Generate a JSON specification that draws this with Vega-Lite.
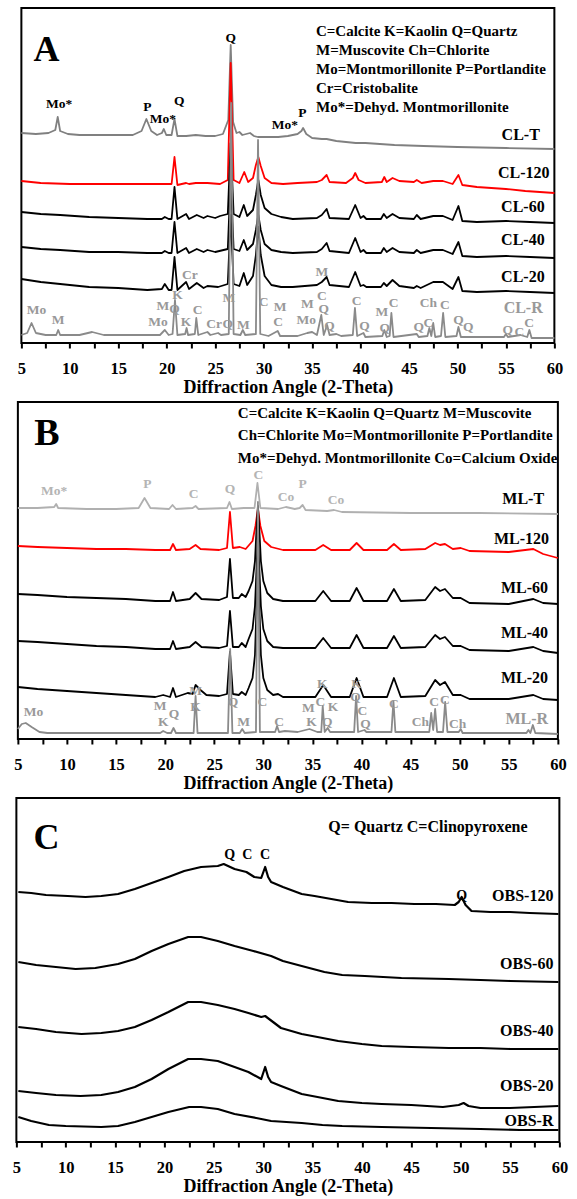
{
"$schema": "https://vega.github.io/schema/vega-lite/v6.json",
"background": "white",
"padding": {"left": 11, "top": 7, "right": 0, "bottom": 0},
"spacing": 3,
"center": true,
"config": {
  "view": {"stroke": "black", "strokeWidth": 2},
  "text": {"font": "Liberation Serif", "fontWeight": "bold"},
  "axisX": {"grid": false, "domain": false, "tickColor": "black", "tickWidth": 2, "tickSize": 5, "labelFont": "Liberation Serif", "labelFontSize": 16.5, "labelFontWeight": "bold", "labelColor": "black", "labelPadding": 12, "labelFlush": false, "labelOverlap": false, "titleFont": "Liberation Serif", "titleFontSize": 18, "titleFontWeight": "bold", "titleColor": "black", "titlePadding": 2}
},
"datasets": {
"lineA": [
{"s":"CL-T","x":5,"y":210},{"s":"CL-T","x":6.5,"y":209},{"s":"CL-T","x":7.8,"y":210},{"s":"CL-T","x":8.5,"y":213},{"s":"CL-T","x":8.75,"y":226},{"s":"CL-T","x":9,"y":212},{"s":"CL-T","x":9.8,"y":209},{"s":"CL-T","x":11,"y":208},{"s":"CL-T","x":13,"y":208},{"s":"CL-T","x":15,"y":208},{"s":"CL-T","x":16.5,"y":208},{"s":"CL-T","x":17.4,"y":212},{"s":"CL-T","x":17.9,"y":224},{"s":"CL-T","x":18.4,"y":212},{"s":"CL-T","x":19,"y":208},{"s":"CL-T","x":19.5,"y":210},{"s":"CL-T","x":19.7,"y":214},{"s":"CL-T","x":19.95,"y":208},{"s":"CL-T","x":20.5,"y":208},{"s":"CL-T","x":20.8,"y":224},{"s":"CL-T","x":21.1,"y":207},{"s":"CL-T","x":22,"y":207},{"s":"CL-T","x":23,"y":208},{"s":"CL-T","x":24,"y":207},{"s":"CL-T","x":25,"y":207},{"s":"CL-T","x":25.8,"y":209},{"s":"CL-T","x":26.35,"y":223},{"s":"CL-T","x":26.6,"y":298},{"s":"CL-T","x":26.85,"y":221},{"s":"CL-T","x":27.2,"y":210},{"s":"CL-T","x":27.5,"y":211},{"s":"CL-T","x":27.8,"y":208},{"s":"CL-T","x":28.6,"y":210},{"s":"CL-T","x":29,"y":207},{"s":"CL-T","x":29.4,"y":206},{"s":"CL-T","x":29.8,"y":206},{"s":"CL-T","x":30.5,"y":206},{"s":"CL-T","x":31.5,"y":206},{"s":"CL-T","x":32.5,"y":207},{"s":"CL-T","x":33,"y":208},{"s":"CL-T","x":33.5,"y":209},{"s":"CL-T","x":33.9,"y":212},{"s":"CL-T","x":34.07,"y":215},{"s":"CL-T","x":34.4,"y":209},{"s":"CL-T","x":35,"y":205},{"s":"CL-T","x":36,"y":204},{"s":"CL-T","x":36.5,"y":204},{"s":"CL-T","x":37.5,"y":202},{"s":"CL-T","x":39.5,"y":200},{"s":"CL-T","x":40.5,"y":200},{"s":"CL-T","x":43.5,"y":198},{"s":"CL-T","x":46.5,"y":197},{"s":"CL-T","x":50,"y":196},{"s":"CL-T","x":55,"y":195},{"s":"CL-T","x":60,"y":194},
{"s":"CL-120","x":5,"y":162},{"s":"CL-120","x":7,"y":160},{"s":"CL-120","x":10,"y":159},{"s":"CL-120","x":13,"y":159},{"s":"CL-120","x":16,"y":159},{"s":"CL-120","x":19,"y":159},{"s":"CL-120","x":20.5,"y":159},{"s":"CL-120","x":20.8,"y":186},{"s":"CL-120","x":21.1,"y":158},{"s":"CL-120","x":22,"y":160},{"s":"CL-120","x":22.3,"y":159},{"s":"CL-120","x":23,"y":160},{"s":"CL-120","x":24.2,"y":160},{"s":"CL-120","x":25.5,"y":159},{"s":"CL-120","x":26.3,"y":163},{"s":"CL-120","x":26.6,"y":280},{"s":"CL-120","x":26.9,"y":163},{"s":"CL-120","x":27.5,"y":160},{"s":"CL-120","x":28,"y":171},{"s":"CL-120","x":28.4,"y":161},{"s":"CL-120","x":28.9,"y":165},{"s":"CL-120","x":29.2,"y":178},{"s":"CL-120","x":29.45,"y":186},{"s":"CL-120","x":29.7,"y":177},{"s":"CL-120","x":30.1,"y":165},{"s":"CL-120","x":30.8,"y":160},{"s":"CL-120","x":32,"y":159},{"s":"CL-120","x":33.5,"y":160},{"s":"CL-120","x":35.5,"y":161},{"s":"CL-120","x":36,"y":163},{"s":"CL-120","x":36.5,"y":168},{"s":"CL-120","x":36.8,"y":161},{"s":"CL-120","x":38.5,"y":160},{"s":"CL-120","x":39.2,"y":165},{"s":"CL-120","x":39.45,"y":170},{"s":"CL-120","x":39.8,"y":163},{"s":"CL-120","x":40.5,"y":160},{"s":"CL-120","x":42.2,"y":161},{"s":"CL-120","x":42.45,"y":166},{"s":"CL-120","x":42.7,"y":161},{"s":"CL-120","x":43.3,"y":165},{"s":"CL-120","x":44,"y":162},{"s":"CL-120","x":45.5,"y":161},{"s":"CL-120","x":45.8,"y":163},{"s":"CL-120","x":46.3,"y":160},{"s":"CL-120","x":47.5,"y":162},{"s":"CL-120","x":48.5,"y":162},{"s":"CL-120","x":49.5,"y":159},{"s":"CL-120","x":50.1,"y":168},{"s":"CL-120","x":50.5,"y":158},{"s":"CL-120","x":52,"y":156},{"s":"CL-120","x":55,"y":154},{"s":"CL-120","x":57,"y":152},{"s":"CL-120","x":60,"y":150},
{"s":"CL-60","x":5,"y":131},{"s":"CL-60","x":7,"y":129},{"s":"CL-60","x":9,"y":128},{"s":"CL-60","x":12,"y":126},{"s":"CL-60","x":15,"y":125},{"s":"CL-60","x":18,"y":124},{"s":"CL-60","x":19.5,"y":124},{"s":"CL-60","x":19.8,"y":126},{"s":"CL-60","x":20.2,"y":124},{"s":"CL-60","x":20.5,"y":124},{"s":"CL-60","x":20.8,"y":156},{"s":"CL-60","x":21.1,"y":124},{"s":"CL-60","x":22,"y":129},{"s":"CL-60","x":22.3,"y":124},{"s":"CL-60","x":23.1,"y":128},{"s":"CL-60","x":23.8,"y":125},{"s":"CL-60","x":24.2,"y":127},{"s":"CL-60","x":25,"y":125},{"s":"CL-60","x":25.5,"y":127},{"s":"CL-60","x":26.3,"y":129},{"s":"CL-60","x":26.6,"y":200},{"s":"CL-60","x":26.9,"y":129},{"s":"CL-60","x":27.5,"y":126},{"s":"CL-60","x":27.95,"y":138},{"s":"CL-60","x":28.3,"y":127},{"s":"CL-60","x":28.9,"y":133},{"s":"CL-60","x":29.2,"y":148},{"s":"CL-60","x":29.45,"y":163},{"s":"CL-60","x":29.7,"y":148},{"s":"CL-60","x":30.1,"y":135},{"s":"CL-60","x":30.8,"y":129},{"s":"CL-60","x":31.8,"y":126},{"s":"CL-60","x":33,"y":124},{"s":"CL-60","x":35.5,"y":125},{"s":"CL-60","x":36,"y":128},{"s":"CL-60","x":36.5,"y":134},{"s":"CL-60","x":36.8,"y":125},{"s":"CL-60","x":38.8,"y":124},{"s":"CL-60","x":39.45,"y":138},{"s":"CL-60","x":40,"y":125},{"s":"CL-60","x":40.3,"y":127},{"s":"CL-60","x":40.6,"y":124},{"s":"CL-60","x":42.1,"y":124},{"s":"CL-60","x":42.4,"y":129},{"s":"CL-60","x":42.7,"y":125},{"s":"CL-60","x":43.3,"y":129},{"s":"CL-60","x":44,"y":125},{"s":"CL-60","x":45.5,"y":124},{"s":"CL-60","x":45.8,"y":128},{"s":"CL-60","x":46.2,"y":124},{"s":"CL-60","x":47.5,"y":127},{"s":"CL-60","x":48.5,"y":127},{"s":"CL-60","x":49.5,"y":123},{"s":"CL-60","x":50.1,"y":137},{"s":"CL-60","x":50.5,"y":122},{"s":"CL-60","x":52,"y":121},{"s":"CL-60","x":55,"y":122},{"s":"CL-60","x":57.5,"y":121},{"s":"CL-60","x":60,"y":120},
{"s":"CL-40","x":5,"y":96},{"s":"CL-40","x":7,"y":94},{"s":"CL-40","x":9,"y":93},{"s":"CL-40","x":12,"y":91},{"s":"CL-40","x":15,"y":91},{"s":"CL-40","x":18,"y":90},{"s":"CL-40","x":19.5,"y":90},{"s":"CL-40","x":19.8,"y":92},{"s":"CL-40","x":20.2,"y":90},{"s":"CL-40","x":20.5,"y":90},{"s":"CL-40","x":20.8,"y":121},{"s":"CL-40","x":21.1,"y":90},{"s":"CL-40","x":22,"y":95},{"s":"CL-40","x":22.3,"y":90},{"s":"CL-40","x":23.1,"y":94},{"s":"CL-40","x":23.8,"y":91},{"s":"CL-40","x":24.2,"y":93},{"s":"CL-40","x":25,"y":91},{"s":"CL-40","x":26.3,"y":94},{"s":"CL-40","x":26.6,"y":165},{"s":"CL-40","x":26.9,"y":94},{"s":"CL-40","x":27.5,"y":92},{"s":"CL-40","x":27.95,"y":103},{"s":"CL-40","x":28.3,"y":93},{"s":"CL-40","x":28.9,"y":99},{"s":"CL-40","x":29.2,"y":113},{"s":"CL-40","x":29.45,"y":128},{"s":"CL-40","x":29.7,"y":113},{"s":"CL-40","x":30.1,"y":99},{"s":"CL-40","x":30.8,"y":93},{"s":"CL-40","x":31.8,"y":91},{"s":"CL-40","x":33,"y":90},{"s":"CL-40","x":35.5,"y":91},{"s":"CL-40","x":36,"y":94},{"s":"CL-40","x":36.5,"y":100},{"s":"CL-40","x":36.8,"y":92},{"s":"CL-40","x":38.8,"y":90},{"s":"CL-40","x":39.45,"y":105},{"s":"CL-40","x":40,"y":91},{"s":"CL-40","x":40.3,"y":93},{"s":"CL-40","x":40.6,"y":90},{"s":"CL-40","x":42.1,"y":90},{"s":"CL-40","x":42.4,"y":95},{"s":"CL-40","x":42.7,"y":91},{"s":"CL-40","x":43.3,"y":95},{"s":"CL-40","x":44,"y":91},{"s":"CL-40","x":45.5,"y":90},{"s":"CL-40","x":45.8,"y":93},{"s":"CL-40","x":46.2,"y":90},{"s":"CL-40","x":47.5,"y":93},{"s":"CL-40","x":48.5,"y":93},{"s":"CL-40","x":49.5,"y":89},{"s":"CL-40","x":50.1,"y":101},{"s":"CL-40","x":50.5,"y":87},{"s":"CL-40","x":52,"y":86},{"s":"CL-40","x":55,"y":87},{"s":"CL-40","x":57.5,"y":86},{"s":"CL-40","x":60,"y":85},
{"s":"CL-20","x":5,"y":64},{"s":"CL-20","x":7,"y":61},{"s":"CL-20","x":9,"y":59},{"s":"CL-20","x":12,"y":56},{"s":"CL-20","x":15,"y":55},{"s":"CL-20","x":18,"y":53},{"s":"CL-20","x":19.5,"y":54},{"s":"CL-20","x":19.8,"y":59},{"s":"CL-20","x":20.2,"y":53},{"s":"CL-20","x":20.5,"y":53},{"s":"CL-20","x":20.8,"y":86},{"s":"CL-20","x":21.1,"y":53},{"s":"CL-20","x":22,"y":61},{"s":"CL-20","x":22.3,"y":54},{"s":"CL-20","x":23.1,"y":60},{"s":"CL-20","x":23.8,"y":55},{"s":"CL-20","x":24.2,"y":57},{"s":"CL-20","x":25.3,"y":56},{"s":"CL-20","x":26.3,"y":59},{"s":"CL-20","x":26.6,"y":128},{"s":"CL-20","x":26.9,"y":59},{"s":"CL-20","x":27.5,"y":57},{"s":"CL-20","x":27.95,"y":70},{"s":"CL-20","x":28.3,"y":58},{"s":"CL-20","x":28.9,"y":67},{"s":"CL-20","x":29.2,"y":88},{"s":"CL-20","x":29.45,"y":116},{"s":"CL-20","x":29.7,"y":88},{"s":"CL-20","x":30.1,"y":67},{"s":"CL-20","x":30.8,"y":58},{"s":"CL-20","x":31.8,"y":56},{"s":"CL-20","x":33,"y":56},{"s":"CL-20","x":35.5,"y":58},{"s":"CL-20","x":36,"y":61},{"s":"CL-20","x":36.5,"y":66},{"s":"CL-20","x":36.8,"y":58},{"s":"CL-20","x":38.8,"y":56},{"s":"CL-20","x":39.45,"y":71},{"s":"CL-20","x":40,"y":57},{"s":"CL-20","x":40.3,"y":58},{"s":"CL-20","x":40.6,"y":56},{"s":"CL-20","x":42.1,"y":56},{"s":"CL-20","x":42.4,"y":60},{"s":"CL-20","x":42.7,"y":57},{"s":"CL-20","x":43.3,"y":63},{"s":"CL-20","x":44,"y":57},{"s":"CL-20","x":45.5,"y":55},{"s":"CL-20","x":45.8,"y":57},{"s":"CL-20","x":46.2,"y":55},{"s":"CL-20","x":47.5,"y":61},{"s":"CL-20","x":48.5,"y":61},{"s":"CL-20","x":49.5,"y":54},{"s":"CL-20","x":50.1,"y":66},{"s":"CL-20","x":50.5,"y":52},{"s":"CL-20","x":52,"y":51},{"s":"CL-20","x":55,"y":52},{"s":"CL-20","x":57.5,"y":51},{"s":"CL-20","x":60,"y":50},
{"s":"CL-R","x":5,"y":8},{"s":"CL-R","x":5.6,"y":10},{"s":"CL-R","x":6.05,"y":20},{"s":"CL-R","x":6.5,"y":10},{"s":"CL-R","x":7.5,"y":8},{"s":"CL-R","x":8.6,"y":8},{"s":"CL-R","x":8.8,"y":13},{"s":"CL-R","x":9,"y":8},{"s":"CL-R","x":11,"y":8},{"s":"CL-R","x":12.3,"y":11},{"s":"CL-R","x":13.5,"y":8},{"s":"CL-R","x":16,"y":8},{"s":"CL-R","x":19.3,"y":8},{"s":"CL-R","x":19.8,"y":13},{"s":"CL-R","x":20.2,"y":8},{"s":"CL-R","x":20.6,"y":9},{"s":"CL-R","x":20.85,"y":43},{"s":"CL-R","x":21.1,"y":8},{"s":"CL-R","x":21.9,"y":9},{"s":"CL-R","x":22.05,"y":15},{"s":"CL-R","x":22.2,"y":8},{"s":"CL-R","x":22.9,"y":9},{"s":"CL-R","x":23.05,"y":25},{"s":"CL-R","x":23.25,"y":8},{"s":"CL-R","x":24.2,"y":11},{"s":"CL-R","x":24.5,"y":8},{"s":"CL-R","x":25.3,"y":10},{"s":"CL-R","x":25.6,"y":8},{"s":"CL-R","x":26.4,"y":9},{"s":"CL-R","x":26.65,"y":240},{"s":"CL-R","x":26.9,"y":9},{"s":"CL-R","x":27.6,"y":8},{"s":"CL-R","x":27.85,"y":13},{"s":"CL-R","x":28.1,"y":8},{"s":"CL-R","x":29.2,"y":9},{"s":"CL-R","x":29.42,"y":203},{"s":"CL-R","x":29.65,"y":9},{"s":"CL-R","x":30.5,"y":7},{"s":"CL-R","x":31.45,"y":12},{"s":"CL-R","x":31.7,"y":7},{"s":"CL-R","x":33.5,"y":7},{"s":"CL-R","x":34.5,"y":10},{"s":"CL-R","x":35,"y":11},{"s":"CL-R","x":35.5,"y":8},{"s":"CL-R","x":35.95,"y":28},{"s":"CL-R","x":36.2,"y":8},{"s":"CL-R","x":36.55,"y":18},{"s":"CL-R","x":36.8,"y":8},{"s":"CL-R","x":37.5,"y":9},{"s":"CL-R","x":38,"y":7},{"s":"CL-R","x":39.2,"y":8},{"s":"CL-R","x":39.42,"y":35},{"s":"CL-R","x":39.65,"y":7},{"s":"CL-R","x":40.3,"y":10},{"s":"CL-R","x":40.5,"y":6},{"s":"CL-R","x":42.25,"y":7},{"s":"CL-R","x":42.45,"y":13},{"s":"CL-R","x":42.7,"y":6},{"s":"CL-R","x":43,"y":7},{"s":"CL-R","x":43.18,"y":30},{"s":"CL-R","x":43.4,"y":6},{"s":"CL-R","x":45.8,"y":9},{"s":"CL-R","x":46,"y":6},{"s":"CL-R","x":46.9,"y":7},{"s":"CL-R","x":47.1,"y":15},{"s":"CL-R","x":47.3,"y":7},{"s":"CL-R","x":47.5,"y":20},{"s":"CL-R","x":47.7,"y":6},{"s":"CL-R","x":48.3,"y":7},{"s":"CL-R","x":48.52,"y":30},{"s":"CL-R","x":48.75,"y":6},{"s":"CL-R","x":49.9,"y":7},{"s":"CL-R","x":50.1,"y":16},{"s":"CL-R","x":50.35,"y":6},{"s":"CL-R","x":54.8,"y":6},{"s":"CL-R","x":55,"y":9},{"s":"CL-R","x":55.2,"y":6},{"s":"CL-R","x":56.5,"y":8},{"s":"CL-R","x":57.2,"y":6},{"s":"CL-R","x":57.42,"y":13},{"s":"CL-R","x":57.65,"y":5},{"s":"CL-R","x":60,"y":5}
],
"peakA": [
{"s":"CL-T","x":8.9,"y":239,"t":"Mo*"},{"s":"CL-T","x":18.0,"y":236,"t":"P"},{"s":"CL-T","x":19.6,"y":224,"t":"Mo*"},{"s":"CL-T","x":21.3,"y":242,"t":"Q"},{"s":"CL-T","x":26.6,"y":305,"t":"Q"},{"s":"CL-T","x":32.2,"y":218,"t":"Mo*"},{"s":"CL-T","x":34.0,"y":230,"t":"P"},
{"s":"CL-R","x":6.55,"y":33,"t":"Mo"},{"s":"CL-R","x":8.8,"y":23,"t":"M"},{"s":"CL-R","x":19.6,"y":37,"t":"M"},{"s":"CL-R","x":19.1,"y":21,"t":"Mo"},{"s":"CL-R","x":21.1,"y":48,"t":"K"},{"s":"CL-R","x":20.8,"y":34,"t":"Q"},{"s":"CL-R","x":22.0,"y":21,"t":"K"},{"s":"CL-R","x":23.2,"y":33,"t":"C"},{"s":"CL-R","x":22.4,"y":68,"t":"Cr"},{"s":"CL-R","x":24.9,"y":19,"t":"Cr"},{"s":"CL-R","x":26.3,"y":19,"t":"Q"},{"s":"CL-R","x":26.4,"y":45,"t":"M"},{"s":"CL-R","x":27.9,"y":18,"t":"M"},{"s":"CL-R","x":30.0,"y":41,"t":"C"},{"s":"CL-R","x":31.7,"y":36,"t":"M"},{"s":"CL-R","x":31.5,"y":21,"t":"C"},{"s":"CL-R","x":34.5,"y":39,"t":"M"},{"s":"CL-R","x":34.4,"y":23,"t":"Mo"},{"s":"CL-R","x":36.0,"y":71,"t":"M"},{"s":"CL-R","x":36.0,"y":47,"t":"C"},{"s":"CL-R","x":36.2,"y":34,"t":"Q"},{"s":"CL-R","x":36.8,"y":17,"t":"Q"},{"s":"CL-R","x":39.6,"y":42,"t":"C"},{"s":"CL-R","x":40.4,"y":17,"t":"Q"},{"s":"CL-R","x":42.2,"y":31,"t":"M"},{"s":"CL-R","x":43.4,"y":40,"t":"C"},{"s":"CL-R","x":42.5,"y":15,"t":"Q"},{"s":"CL-R","x":47.0,"y":40,"t":"Ch"},{"s":"CL-R","x":48.7,"y":38,"t":"C"},{"s":"CL-R","x":46.0,"y":16,"t":"Q"},{"s":"CL-R","x":47.0,"y":20,"t":"C"},{"s":"CL-R","x":50.1,"y":23,"t":"Q"},{"s":"CL-R","x":51.1,"y":16,"t":"Q"},{"s":"CL-R","x":55.2,"y":13,"t":"Q"},{"s":"CL-R","x":56.4,"y":11,"t":"C"},{"s":"CL-R","x":57.4,"y":20,"t":"C"}
],
"nameA": [
{"s":"CL-T","x":58.5,"y":208},{"s":"CL-120","x":59.5,"y":170},{"s":"CL-60","x":59.0,"y":136},{"s":"CL-40","x":59.0,"y":103},{"s":"CL-20","x":59.0,"y":66},{"s":"CL-R","x":58.8,"y":35}
],
"noteA": [
{"x":35.4,"y":312,"t":"C=Calcite K=Kaolin Q=Quartz"},{"x":35.4,"y":293,"t":"M=Muscovite Ch=Chlorite"},{"x":35.4,"y":274,"t":"Mo=Montmorillonite P=Portlandite"},{"x":35.4,"y":255,"t":"Cr=Cristobalite"},{"x":35.4,"y":236,"t":"Mo*=Dehyd. Montmorillonite"}
],
"tagA": [{"x":7.6,"y":293,"t":"A"}],
"lineB": [
{"s":"ML-T","x":5,"y":231},{"s":"ML-T","x":7,"y":231},{"s":"ML-T","x":8.7,"y":232},{"s":"ML-T","x":8.9,"y":235},{"s":"ML-T","x":9.1,"y":231},{"s":"ML-T","x":12,"y":230},{"s":"ML-T","x":15,"y":230},{"s":"ML-T","x":17.3,"y":231},{"s":"ML-T","x":17.9,"y":241},{"s":"ML-T","x":18.5,"y":231},{"s":"ML-T","x":20.4,"y":230},{"s":"ML-T","x":20.75,"y":234},{"s":"ML-T","x":21.1,"y":230},{"s":"ML-T","x":22.8,"y":231},{"s":"ML-T","x":23.1,"y":233},{"s":"ML-T","x":23.4,"y":230},{"s":"ML-T","x":26.3,"y":231},{"s":"ML-T","x":26.55,"y":237},{"s":"ML-T","x":26.8,"y":230},{"s":"ML-T","x":28,"y":231},{"s":"ML-T","x":29.1,"y":231},{"s":"ML-T","x":29.4,"y":256},{"s":"ML-T","x":29.7,"y":231},{"s":"ML-T","x":31.5,"y":230},{"s":"ML-T","x":32.3,"y":232},{"s":"ML-T","x":33.2,"y":230},{"s":"ML-T","x":33.7,"y":231},{"s":"ML-T","x":34,"y":234},{"s":"ML-T","x":34.3,"y":229},{"s":"ML-T","x":36.5,"y":228},{"s":"ML-T","x":37.2,"y":229},{"s":"ML-T","x":38,"y":227},{"s":"ML-T","x":45,"y":226},{"s":"ML-T","x":52,"y":226},{"s":"ML-T","x":60,"y":225},
{"s":"ML-120","x":5,"y":193},{"s":"ML-120","x":7,"y":192},{"s":"ML-120","x":10,"y":191},{"s":"ML-120","x":13,"y":190},{"s":"ML-120","x":16,"y":190},{"s":"ML-120","x":19,"y":189},{"s":"ML-120","x":20.5,"y":189},{"s":"ML-120","x":20.8,"y":195},{"s":"ML-120","x":21.1,"y":189},{"s":"ML-120","x":22.5,"y":190},{"s":"ML-120","x":23.1,"y":194},{"s":"ML-120","x":23.6,"y":190},{"s":"ML-120","x":25.5,"y":189},{"s":"ML-120","x":26.3,"y":191},{"s":"ML-120","x":26.6,"y":227},{"s":"ML-120","x":26.9,"y":191},{"s":"ML-120","x":27.6,"y":192},{"s":"ML-120","x":28.2,"y":190},{"s":"ML-120","x":28.9,"y":198},{"s":"ML-120","x":29.2,"y":213},{"s":"ML-120","x":29.45,"y":230},{"s":"ML-120","x":29.7,"y":213},{"s":"ML-120","x":30.1,"y":198},{"s":"ML-120","x":30.8,"y":192},{"s":"ML-120","x":32,"y":189},{"s":"ML-120","x":35.3,"y":189},{"s":"ML-120","x":36.1,"y":194},{"s":"ML-120","x":36.9,"y":189},{"s":"ML-120","x":38.8,"y":189},{"s":"ML-120","x":39.5,"y":196},{"s":"ML-120","x":40.2,"y":189},{"s":"ML-120","x":42.6,"y":189},{"s":"ML-120","x":43.3,"y":195},{"s":"ML-120","x":44,"y":189},{"s":"ML-120","x":46.5,"y":190},{"s":"ML-120","x":47.5,"y":196},{"s":"ML-120","x":48,"y":194},{"s":"ML-120","x":48.5,"y":195},{"s":"ML-120","x":49.3,"y":190},{"s":"ML-120","x":50.1,"y":191},{"s":"ML-120","x":51,"y":188},{"s":"ML-120","x":55,"y":187},{"s":"ML-120","x":57.5,"y":190},{"s":"ML-120","x":58.5,"y":185},{"s":"ML-120","x":60,"y":181},
{"s":"ML-60","x":5,"y":145},{"s":"ML-60","x":7,"y":144},{"s":"ML-60","x":10,"y":142},{"s":"ML-60","x":13,"y":141},{"s":"ML-60","x":16,"y":140},{"s":"ML-60","x":19,"y":138},{"s":"ML-60","x":20.5,"y":138},{"s":"ML-60","x":20.8,"y":147},{"s":"ML-60","x":21.1,"y":138},{"s":"ML-60","x":22.5,"y":140},{"s":"ML-60","x":23.1,"y":146},{"s":"ML-60","x":23.7,"y":140},{"s":"ML-60","x":25.5,"y":139},{"s":"ML-60","x":26.3,"y":142},{"s":"ML-60","x":26.6,"y":180},{"s":"ML-60","x":26.9,"y":141},{"s":"ML-60","x":27.5,"y":141},{"s":"ML-60","x":27.8,"y":145},{"s":"ML-60","x":28.2,"y":142},{"s":"ML-60","x":28.5,"y":148},{"s":"ML-60","x":28.9,"y":158},{"s":"ML-60","x":29.15,"y":178},{"s":"ML-60","x":29.3,"y":208},{"s":"ML-60","x":29.45,"y":233},{"s":"ML-60","x":29.6,"y":208},{"s":"ML-60","x":29.75,"y":178},{"s":"ML-60","x":30,"y":158},{"s":"ML-60","x":30.4,"y":146},{"s":"ML-60","x":31,"y":140},{"s":"ML-60","x":32,"y":138},{"s":"ML-60","x":35.3,"y":138},{"s":"ML-60","x":36.1,"y":148},{"s":"ML-60","x":36.9,"y":138},{"s":"ML-60","x":38.8,"y":138},{"s":"ML-60","x":39.5,"y":151},{"s":"ML-60","x":40.2,"y":138},{"s":"ML-60","x":42.6,"y":138},{"s":"ML-60","x":43.3,"y":150},{"s":"ML-60","x":44,"y":138},{"s":"ML-60","x":46.5,"y":139},{"s":"ML-60","x":47.5,"y":152},{"s":"ML-60","x":48,"y":148},{"s":"ML-60","x":48.5,"y":150},{"s":"ML-60","x":49.3,"y":141},{"s":"ML-60","x":50.1,"y":141},{"s":"ML-60","x":51,"y":136},{"s":"ML-60","x":55,"y":135},{"s":"ML-60","x":57.5,"y":140},{"s":"ML-60","x":58.5,"y":136},{"s":"ML-60","x":60,"y":135},
{"s":"ML-40","x":5,"y":98},{"s":"ML-40","x":7,"y":97},{"s":"ML-40","x":10,"y":95},{"s":"ML-40","x":13,"y":93},{"s":"ML-40","x":16,"y":92},{"s":"ML-40","x":19,"y":90},{"s":"ML-40","x":20.5,"y":90},{"s":"ML-40","x":20.8,"y":98},{"s":"ML-40","x":21.1,"y":90},{"s":"ML-40","x":22.5,"y":92},{"s":"ML-40","x":23.1,"y":97},{"s":"ML-40","x":23.7,"y":92},{"s":"ML-40","x":25.5,"y":91},{"s":"ML-40","x":26.3,"y":93},{"s":"ML-40","x":26.6,"y":128},{"s":"ML-40","x":26.9,"y":92},{"s":"ML-40","x":27.5,"y":92},{"s":"ML-40","x":27.8,"y":96},{"s":"ML-40","x":28.2,"y":92},{"s":"ML-40","x":28.5,"y":100},{"s":"ML-40","x":28.9,"y":110},{"s":"ML-40","x":29.15,"y":133},{"s":"ML-40","x":29.3,"y":168},{"s":"ML-40","x":29.45,"y":208},{"s":"ML-40","x":29.6,"y":168},{"s":"ML-40","x":29.75,"y":133},{"s":"ML-40","x":30,"y":110},{"s":"ML-40","x":30.4,"y":98},{"s":"ML-40","x":31,"y":92},{"s":"ML-40","x":32,"y":91},{"s":"ML-40","x":35.3,"y":91},{"s":"ML-40","x":36.1,"y":101},{"s":"ML-40","x":36.9,"y":91},{"s":"ML-40","x":38.8,"y":91},{"s":"ML-40","x":39.5,"y":104},{"s":"ML-40","x":40.2,"y":91},{"s":"ML-40","x":42.6,"y":91},{"s":"ML-40","x":43.3,"y":103},{"s":"ML-40","x":44,"y":91},{"s":"ML-40","x":46.5,"y":92},{"s":"ML-40","x":47.5,"y":104},{"s":"ML-40","x":48,"y":100},{"s":"ML-40","x":48.5,"y":102},{"s":"ML-40","x":49.3,"y":93},{"s":"ML-40","x":50.1,"y":93},{"s":"ML-40","x":51,"y":89},{"s":"ML-40","x":55,"y":88},{"s":"ML-40","x":57.5,"y":92},{"s":"ML-40","x":58.5,"y":88},{"s":"ML-40","x":60,"y":86},
{"s":"ML-20","x":5,"y":52},{"s":"ML-20","x":7,"y":50},{"s":"ML-20","x":10,"y":48},{"s":"ML-20","x":13,"y":46},{"s":"ML-20","x":16,"y":44},{"s":"ML-20","x":19,"y":42},{"s":"ML-20","x":19.8,"y":44},{"s":"ML-20","x":20.5,"y":42},{"s":"ML-20","x":20.8,"y":51},{"s":"ML-20","x":21.1,"y":42},{"s":"ML-20","x":22.3,"y":46},{"s":"ML-20","x":22.8,"y":45},{"s":"ML-20","x":23.1,"y":54},{"s":"ML-20","x":23.6,"y":49},{"s":"ML-20","x":24.2,"y":44},{"s":"ML-20","x":25.5,"y":43},{"s":"ML-20","x":26.3,"y":45},{"s":"ML-20","x":26.6,"y":87},{"s":"ML-20","x":26.9,"y":45},{"s":"ML-20","x":27.5,"y":44},{"s":"ML-20","x":27.8,"y":47},{"s":"ML-20","x":28.2,"y":44},{"s":"ML-20","x":28.5,"y":51},{"s":"ML-20","x":28.9,"y":61},{"s":"ML-20","x":29.15,"y":84},{"s":"ML-20","x":29.3,"y":129},{"s":"ML-20","x":29.45,"y":179},{"s":"ML-20","x":29.6,"y":129},{"s":"ML-20","x":29.75,"y":84},{"s":"ML-20","x":30,"y":61},{"s":"ML-20","x":30.4,"y":49},{"s":"ML-20","x":31,"y":44},{"s":"ML-20","x":31.5,"y":45},{"s":"ML-20","x":32,"y":42},{"s":"ML-20","x":35.3,"y":42},{"s":"ML-20","x":36.1,"y":54},{"s":"ML-20","x":36.9,"y":42},{"s":"ML-20","x":38.8,"y":42},{"s":"ML-20","x":39.5,"y":61},{"s":"ML-20","x":40.2,"y":42},{"s":"ML-20","x":42.6,"y":42},{"s":"ML-20","x":43.3,"y":61},{"s":"ML-20","x":44,"y":42},{"s":"ML-20","x":46.5,"y":43},{"s":"ML-20","x":47.5,"y":59},{"s":"ML-20","x":48,"y":54},{"s":"ML-20","x":48.5,"y":57},{"s":"ML-20","x":49.3,"y":44},{"s":"ML-20","x":50.1,"y":44},{"s":"ML-20","x":51,"y":40},{"s":"ML-20","x":55,"y":40},{"s":"ML-20","x":57.5,"y":44},{"s":"ML-20","x":58.5,"y":40},{"s":"ML-20","x":60,"y":39},
{"s":"ML-R","x":5,"y":10},{"s":"ML-R","x":5.4,"y":15},{"s":"ML-R","x":5.8,"y":16},{"s":"ML-R","x":6.4,"y":12},{"s":"ML-R","x":7.2,"y":7},{"s":"ML-R","x":8,"y":6},{"s":"ML-R","x":12,"y":6},{"s":"ML-R","x":16,"y":6},{"s":"ML-R","x":19.5,"y":6},{"s":"ML-R","x":19.8,"y":8},{"s":"ML-R","x":20.2,"y":6},{"s":"ML-R","x":20.6,"y":6},{"s":"ML-R","x":20.85,"y":11},{"s":"ML-R","x":21.1,"y":6},{"s":"ML-R","x":22.9,"y":6},{"s":"ML-R","x":23.1,"y":43},{"s":"ML-R","x":23.3,"y":6},{"s":"ML-R","x":26.4,"y":6},{"s":"ML-R","x":26.62,"y":90},{"s":"ML-R","x":26.85,"y":6},{"s":"ML-R","x":27.6,"y":6},{"s":"ML-R","x":27.85,"y":10},{"s":"ML-R","x":28.1,"y":6},{"s":"ML-R","x":29.25,"y":7},{"s":"ML-R","x":29.45,"y":237},{"s":"ML-R","x":29.65,"y":7},{"s":"ML-R","x":31.2,"y":7},{"s":"ML-R","x":31.4,"y":13},{"s":"ML-R","x":31.6,"y":7},{"s":"ML-R","x":32.2,"y":8},{"s":"ML-R","x":33.5,"y":7},{"s":"ML-R","x":34.7,"y":10},{"s":"ML-R","x":35.5,"y":7},{"s":"ML-R","x":35.9,"y":7},{"s":"ML-R","x":36.05,"y":33},{"s":"ML-R","x":36.25,"y":7},{"s":"ML-R","x":36.55,"y":11},{"s":"ML-R","x":36.8,"y":7},{"s":"ML-R","x":39.25,"y":7},{"s":"ML-R","x":39.45,"y":43},{"s":"ML-R","x":39.65,"y":7},{"s":"ML-R","x":40.3,"y":9},{"s":"ML-R","x":40.5,"y":7},{"s":"ML-R","x":43.05,"y":7},{"s":"ML-R","x":43.25,"y":38},{"s":"ML-R","x":43.45,"y":7},{"s":"ML-R","x":46.9,"y":7},{"s":"ML-R","x":47.1,"y":26},{"s":"ML-R","x":47.3,"y":9},{"s":"ML-R","x":47.5,"y":30},{"s":"ML-R","x":47.7,"y":7},{"s":"ML-R","x":48.3,"y":7},{"s":"ML-R","x":48.52,"y":37},{"s":"ML-R","x":48.75,"y":7},{"s":"ML-R","x":49.9,"y":7},{"s":"ML-R","x":50.1,"y":10},{"s":"ML-R","x":50.3,"y":6},{"s":"ML-R","x":56.8,"y":6},{"s":"ML-R","x":57,"y":9},{"s":"ML-R","x":57.2,"y":6},{"s":"ML-R","x":57.45,"y":14},{"s":"ML-R","x":57.7,"y":6},{"s":"ML-R","x":60,"y":5}
],
"peakB": [
{"s":"ML-T","x":8.7,"y":248,"t":"Mo*"},{"s":"ML-T","x":18.2,"y":255,"t":"P"},{"s":"ML-T","x":22.9,"y":245,"t":"C"},{"s":"ML-T","x":26.6,"y":250,"t":"Q"},{"s":"ML-T","x":29.5,"y":264,"t":"C"},{"s":"ML-T","x":32.3,"y":242,"t":"Co"},{"s":"ML-T","x":34.0,"y":255,"t":"P"},{"s":"ML-T","x":37.4,"y":239,"t":"Co"},
{"s":"ML-R","x":6.6,"y":27,"t":"Mo"},{"s":"ML-R","x":19.5,"y":33,"t":"M"},{"s":"ML-R","x":19.8,"y":17,"t":"K"},{"s":"ML-R","x":20.9,"y":25,"t":"Q"},{"s":"ML-R","x":23.1,"y":48,"t":"M"},{"s":"ML-R","x":23.1,"y":32,"t":"K"},{"s":"ML-R","x":26.9,"y":37,"t":"Q"},{"s":"ML-R","x":28.0,"y":17,"t":"M"},{"s":"ML-R","x":29.9,"y":37,"t":"C"},{"s":"ML-R","x":31.6,"y":17,"t":"C"},{"s":"ML-R","x":34.6,"y":31,"t":"M"},{"s":"ML-R","x":34.9,"y":17,"t":"K"},{"s":"ML-R","x":36.0,"y":55,"t":"K"},{"s":"ML-R","x":35.8,"y":37,"t":"C"},{"s":"ML-R","x":37.1,"y":32,"t":"K"},{"s":"ML-R","x":36.5,"y":17,"t":"Q"},{"s":"ML-R","x":39.5,"y":55,"t":"K"},{"s":"ML-R","x":39.4,"y":42,"t":"Q"},{"s":"ML-R","x":40.1,"y":28,"t":"C"},{"s":"ML-R","x":40.4,"y":15,"t":"Q"},{"s":"ML-R","x":43.3,"y":35,"t":"C"},{"s":"ML-R","x":46.0,"y":17,"t":"Ch"},{"s":"ML-R","x":47.4,"y":37,"t":"C"},{"s":"ML-R","x":48.5,"y":39,"t":"C"},{"s":"ML-R","x":49.8,"y":15,"t":"Ch"}
],
"nameB": [
{"s":"ML-T","x":58.6,"y":240},{"s":"ML-120","x":59.1,"y":200},{"s":"ML-60","x":59.0,"y":151},{"s":"ML-40","x":59.0,"y":106},{"s":"ML-20","x":59.0,"y":61},{"s":"ML-R","x":59.0,"y":20}
],
"noteB": [
{"x":27.4,"y":326,"t":"C=Calcite K=Kaolin Q=Quartz M=Muscovite"},{"x":27.4,"y":304,"t":"Ch=Chlorite Mo=Montmorillonite P=Portlandite"},{"x":27.4,"y":281,"t":"Mo*=Dehyd. Montmorillonite Co=Calcium Oxide"}
],
"tagB": [{"x":7.95,"y":305,"t":"B"}],
"lineC": [
{"s":"OBS-120","x":5.2,"y":250},{"s":"OBS-120","x":6.5,"y":249},{"s":"OBS-120","x":8,"y":247},{"s":"OBS-120","x":10.2,"y":246},{"s":"OBS-120","x":12,"y":245},{"s":"OBS-120","x":13.6,"y":246},{"s":"OBS-120","x":15.3,"y":248},{"s":"OBS-120","x":17,"y":253},{"s":"OBS-120","x":18.7,"y":259},{"s":"OBS-120","x":20.4,"y":265},{"s":"OBS-120","x":22,"y":271},{"s":"OBS-120","x":23.7,"y":275},{"s":"OBS-120","x":25.4,"y":276},{"s":"OBS-120","x":26,"y":278},{"s":"OBS-120","x":27.1,"y":273},{"s":"OBS-120","x":28.3,"y":270},{"s":"OBS-120","x":29.1,"y":265},{"s":"OBS-120","x":29.8,"y":264},{"s":"OBS-120","x":30.2,"y":275},{"s":"OBS-120","x":30.5,"y":265},{"s":"OBS-120","x":30.8,"y":260},{"s":"OBS-120","x":32,"y":255},{"s":"OBS-120","x":33.9,"y":248},{"s":"OBS-120","x":35.2,"y":246},{"s":"OBS-120","x":36.9,"y":243},{"s":"OBS-120","x":38.6,"y":240},{"s":"OBS-120","x":41,"y":239},{"s":"OBS-120","x":43,"y":239},{"s":"OBS-120","x":45.3,"y":238},{"s":"OBS-120","x":47.5,"y":238},{"s":"OBS-120","x":49.4,"y":237},{"s":"OBS-120","x":49.8,"y":240},{"s":"OBS-120","x":50.1,"y":245},{"s":"OBS-120","x":50.5,"y":237},{"s":"OBS-120","x":51.1,"y":231},{"s":"OBS-120","x":53,"y":230},{"s":"OBS-120","x":55,"y":230},{"s":"OBS-120","x":57,"y":229},{"s":"OBS-120","x":59.9,"y":228},
{"s":"OBS-60","x":5.2,"y":180},{"s":"OBS-60","x":7,"y":177},{"s":"OBS-60","x":9,"y":175},{"s":"OBS-60","x":11,"y":173},{"s":"OBS-60","x":13,"y":174},{"s":"OBS-60","x":15.3,"y":178},{"s":"OBS-60","x":17,"y":183},{"s":"OBS-60","x":18.7,"y":191},{"s":"OBS-60","x":20.4,"y":198},{"s":"OBS-60","x":22.4,"y":205},{"s":"OBS-60","x":23.7,"y":205},{"s":"OBS-60","x":25.4,"y":201},{"s":"OBS-60","x":27.1,"y":196},{"s":"OBS-60","x":29,"y":191},{"s":"OBS-60","x":30.8,"y":186},{"s":"OBS-60","x":32,"y":181},{"s":"OBS-60","x":33.9,"y":176},{"s":"OBS-60","x":36.2,"y":170},{"s":"OBS-60","x":38,"y":167},{"s":"OBS-60","x":40.3,"y":166},{"s":"OBS-60","x":44,"y":164},{"s":"OBS-60","x":48.8,"y":163},{"s":"OBS-60","x":52,"y":162},{"s":"OBS-60","x":55,"y":161},{"s":"OBS-60","x":59.9,"y":160},
{"s":"OBS-40","x":5.2,"y":115},{"s":"OBS-40","x":7,"y":113},{"s":"OBS-40","x":9,"y":110},{"s":"OBS-40","x":11.6,"y":108},{"s":"OBS-40","x":13.6,"y":109},{"s":"OBS-40","x":15.3,"y":111},{"s":"OBS-40","x":17,"y":115},{"s":"OBS-40","x":18.7,"y":122},{"s":"OBS-40","x":20.4,"y":130},{"s":"OBS-40","x":22.4,"y":140},{"s":"OBS-40","x":23.7,"y":140},{"s":"OBS-40","x":25.4,"y":137},{"s":"OBS-40","x":27.1,"y":133},{"s":"OBS-40","x":28.5,"y":129},{"s":"OBS-40","x":29.8,"y":125},{"s":"OBS-40","x":30.2,"y":126},{"s":"OBS-40","x":31,"y":120},{"s":"OBS-40","x":31.8,"y":114},{"s":"OBS-40","x":33.9,"y":108},{"s":"OBS-40","x":35.5,"y":105},{"s":"OBS-40","x":37.6,"y":101},{"s":"OBS-40","x":40,"y":98},{"s":"OBS-40","x":42,"y":96},{"s":"OBS-40","x":45,"y":95},{"s":"OBS-40","x":48.8,"y":94},{"s":"OBS-40","x":52,"y":94},{"s":"OBS-40","x":55,"y":93},{"s":"OBS-40","x":59.9,"y":93},
{"s":"OBS-20","x":5.2,"y":51},{"s":"OBS-20","x":7,"y":49},{"s":"OBS-20","x":9,"y":47},{"s":"OBS-20","x":11.5,"y":46},{"s":"OBS-20","x":13.6,"y":47},{"s":"OBS-20","x":15.3,"y":50},{"s":"OBS-20","x":17,"y":55},{"s":"OBS-20","x":18.7,"y":63},{"s":"OBS-20","x":20.4,"y":73},{"s":"OBS-20","x":22.4,"y":83},{"s":"OBS-20","x":23.7,"y":83},{"s":"OBS-20","x":25.4,"y":81},{"s":"OBS-20","x":27.1,"y":75},{"s":"OBS-20","x":28.5,"y":70},{"s":"OBS-20","x":29.8,"y":63},{"s":"OBS-20","x":30.2,"y":75},{"s":"OBS-20","x":30.5,"y":65},{"s":"OBS-20","x":30.8,"y":60},{"s":"OBS-20","x":31.8,"y":56},{"s":"OBS-20","x":33.9,"y":48},{"s":"OBS-20","x":35.5,"y":45},{"s":"OBS-20","x":37.6,"y":41},{"s":"OBS-20","x":40,"y":39},{"s":"OBS-20","x":42,"y":38},{"s":"OBS-20","x":45,"y":37},{"s":"OBS-20","x":48.2,"y":35},{"s":"OBS-20","x":49.8,"y":37},{"s":"OBS-20","x":50.3,"y":39},{"s":"OBS-20","x":50.8,"y":36},{"s":"OBS-20","x":52,"y":34},{"s":"OBS-20","x":55,"y":34},{"s":"OBS-20","x":59.9,"y":36},
{"s":"OBS-R","x":5.2,"y":25},{"s":"OBS-R","x":6.5,"y":21},{"s":"OBS-R","x":8.3,"y":17},{"s":"OBS-R","x":10,"y":16},{"s":"OBS-R","x":13.6,"y":15},{"s":"OBS-R","x":15.3,"y":16},{"s":"OBS-R","x":17,"y":20},{"s":"OBS-R","x":18.7,"y":25},{"s":"OBS-R","x":20.4,"y":30},{"s":"OBS-R","x":22.5,"y":35},{"s":"OBS-R","x":23.7,"y":35},{"s":"OBS-R","x":25.4,"y":33},{"s":"OBS-R","x":27.1,"y":28},{"s":"OBS-R","x":29.3,"y":24},{"s":"OBS-R","x":30.8,"y":21},{"s":"OBS-R","x":33.9,"y":19},{"s":"OBS-R","x":36,"y":17},{"s":"OBS-R","x":38,"y":16},{"s":"OBS-R","x":42,"y":15},{"s":"OBS-R","x":47,"y":14},{"s":"OBS-R","x":52,"y":13},{"s":"OBS-R","x":56,"y":12},{"s":"OBS-R","x":59.9,"y":12}
],
"peakC": [
{"s":"OBS-120","x":26.6,"y":287,"t":"Q"},{"s":"OBS-120","x":28.4,"y":287,"t":"C"},{"s":"OBS-120","x":30.2,"y":287,"t":"C"},{"s":"OBS-120","x":50.1,"y":246,"t":"Q"}
],
"nameC": [
{"s":"OBS-120","x":59.4,"y":246},{"s":"OBS-60","x":59.4,"y":178},{"s":"OBS-40","x":59.4,"y":111},{"s":"OBS-20","x":59.4,"y":56},{"s":"OBS-R","x":59.4,"y":21}
],
"noteC": [{"x":36.6,"y":315,"t":"Q= Quartz C=Clinopyroxene"}],
"tagC": [{"x":8.04,"y":304,"t":"C"}]
},
"vconcat": [
{
 "width": 533, "height": 335,
 "encoding": {
  "x": {"field": "x", "type": "quantitative", "scale": {"domain": [5, 60], "nice": false, "zero": false}, "axis": {"title": "Diffraction Angle (2-Theta)", "values": [5,7.5,10,12.5,15,17.5,20,22.5,25,27.5,30,32.5,35,37.5,40,42.5,45,47.5,50,52.5,55,57.5,60], "labelExpr": "datum.value % 5 === 0 ? datum.label : ''"}},
  "y": {"field": "y", "type": "quantitative", "scale": {"domain": [0, 335], "nice": false, "zero": false}, "axis": null}
 },
 "layer": [
  {"data": {"name": "lineA"}, "mark": {"type": "line", "strokeWidth": 1.8, "strokeJoin": "round"},
   "encoding": {"color": {"field": "s", "type": "nominal", "legend": null, "scale": {"domain": ["CL-T","CL-120","CL-60","CL-40","CL-20","CL-R","ML-T","ML-120","ML-60","ML-40","ML-20","ML-R","OBS-120","OBS-60","OBS-40","OBS-20","OBS-R"], "range": ["#808080","#ff0000","#000000","#000000","#000000","#8a8a8a","#b0b0b0","#ff0000","#000000","#000000","#000000","#8a8a8a","#000000","#000000","#000000","#000000","#000000"]}}}},
  {"data": {"name": "peakA"}, "mark": {"type": "text", "fontSize": 13.5, "align": "center", "baseline": "middle"},
   "encoding": {"text": {"field": "t"}, "color": {"condition": [{"test": "datum.s === 'CL-R' || datum.s === 'ML-R'", "value": "#999999"}, {"test": "datum.s === 'ML-T'", "value": "#b4b4b4"}], "value": "black"}}},
  {"data": {"name": "nameA"}, "mark": {"type": "text", "fontSize": 16, "align": "right", "baseline": "middle"},
   "encoding": {"text": {"field": "s"}, "color": {"condition": {"test": "datum.s === 'CL-R' || datum.s === 'ML-R'", "value": "#999999"}, "value": "black"}}},
  {"data": {"name": "noteA"}, "mark": {"type": "text", "fontSize": 15, "align": "left", "baseline": "middle", "color": "black"},
   "encoding": {"text": {"field": "t"}}},
  {"data": {"name": "tagA"}, "mark": {"type": "text", "fontSize": 36, "align": "center", "baseline": "middle", "color": "black"},
   "encoding": {"text": {"field": "t"}}}
 ]
},
{
 "width": 540, "height": 337,
 "encoding": {
  "x": {"field": "x", "type": "quantitative", "scale": {"domain": [5, 60], "nice": false, "zero": false}, "axis": {"title": "Diffraction Angle (2-Theta)", "values": [5,7.5,10,12.5,15,17.5,20,22.5,25,27.5,30,32.5,35,37.5,40,42.5,45,47.5,50,52.5,55,57.5,60], "labelExpr": "datum.value % 5 === 0 ? datum.label : ''"}},
  "y": {"field": "y", "type": "quantitative", "scale": {"domain": [0, 337], "nice": false, "zero": false}, "axis": null}
 },
 "layer": [
  {"data": {"name": "lineB"}, "mark": {"type": "line", "strokeWidth": 1.8, "strokeJoin": "round"},
   "encoding": {"color": {"field": "s", "type": "nominal", "legend": null, "scale": {"domain": ["CL-T","CL-120","CL-60","CL-40","CL-20","CL-R","ML-T","ML-120","ML-60","ML-40","ML-20","ML-R","OBS-120","OBS-60","OBS-40","OBS-20","OBS-R"], "range": ["#808080","#ff0000","#000000","#000000","#000000","#8a8a8a","#b0b0b0","#ff0000","#000000","#000000","#000000","#8a8a8a","#000000","#000000","#000000","#000000","#000000"]}}}},
  {"data": {"name": "peakB"}, "mark": {"type": "text", "fontSize": 13.5, "align": "center", "baseline": "middle"},
   "encoding": {"text": {"field": "t"}, "color": {"condition": [{"test": "datum.s === 'CL-R' || datum.s === 'ML-R'", "value": "#999999"}, {"test": "datum.s === 'ML-T'", "value": "#b4b4b4"}], "value": "black"}}},
  {"data": {"name": "nameB"}, "mark": {"type": "text", "fontSize": 16, "align": "right", "baseline": "middle"},
   "encoding": {"text": {"field": "s"}, "color": {"condition": {"test": "datum.s === 'CL-R' || datum.s === 'ML-R'", "value": "#999999"}, "value": "black"}}},
  {"data": {"name": "noteB"}, "mark": {"type": "text", "fontSize": 15, "align": "left", "baseline": "middle", "color": "black"},
   "encoding": {"text": {"field": "t"}}},
  {"data": {"name": "tagB"}, "mark": {"type": "text", "fontSize": 38, "align": "center", "baseline": "middle", "color": "black"},
   "encoding": {"text": {"field": "t"}}}
 ]
},
{
 "width": 543, "height": 344,
 "encoding": {
  "x": {"field": "x", "type": "quantitative", "scale": {"domain": [5, 60], "nice": false, "zero": false}, "axis": {"title": "Diffraction Angle (2-Theta)", "values": [5,7.5,10,12.5,15,17.5,20,22.5,25,27.5,30,32.5,35,37.5,40,42.5,45,47.5,50,52.5,55,57.5,60], "labelExpr": "datum.value % 5 === 0 ? datum.label : ''"}},
  "y": {"field": "y", "type": "quantitative", "scale": {"domain": [0, 344], "nice": false, "zero": false}, "axis": null}
 },
 "layer": [
  {"data": {"name": "lineC"}, "mark": {"type": "line", "strokeWidth": 2.2, "strokeJoin": "round"},
   "encoding": {"color": {"field": "s", "type": "nominal", "legend": null, "scale": {"domain": ["CL-T","CL-120","CL-60","CL-40","CL-20","CL-R","ML-T","ML-120","ML-60","ML-40","ML-20","ML-R","OBS-120","OBS-60","OBS-40","OBS-20","OBS-R"], "range": ["#808080","#ff0000","#000000","#000000","#000000","#8a8a8a","#b0b0b0","#ff0000","#000000","#000000","#000000","#8a8a8a","#000000","#000000","#000000","#000000","#000000"]}}}},
  {"data": {"name": "peakC"}, "mark": {"type": "text", "fontSize": 14, "align": "center", "baseline": "middle", "color": "black"},
   "encoding": {"text": {"field": "t"}}},
  {"data": {"name": "nameC"}, "mark": {"type": "text", "fontSize": 16, "align": "right", "baseline": "middle", "color": "black"},
   "encoding": {"text": {"field": "s"}}},
  {"data": {"name": "noteC"}, "mark": {"type": "text", "fontSize": 16, "align": "left", "baseline": "middle", "color": "black"},
   "encoding": {"text": {"field": "t"}}},
  {"data": {"name": "tagC"}, "mark": {"type": "text", "fontSize": 36, "align": "center", "baseline": "middle", "color": "black"},
   "encoding": {"text": {"field": "t"}}}
 ]
}
]
}
